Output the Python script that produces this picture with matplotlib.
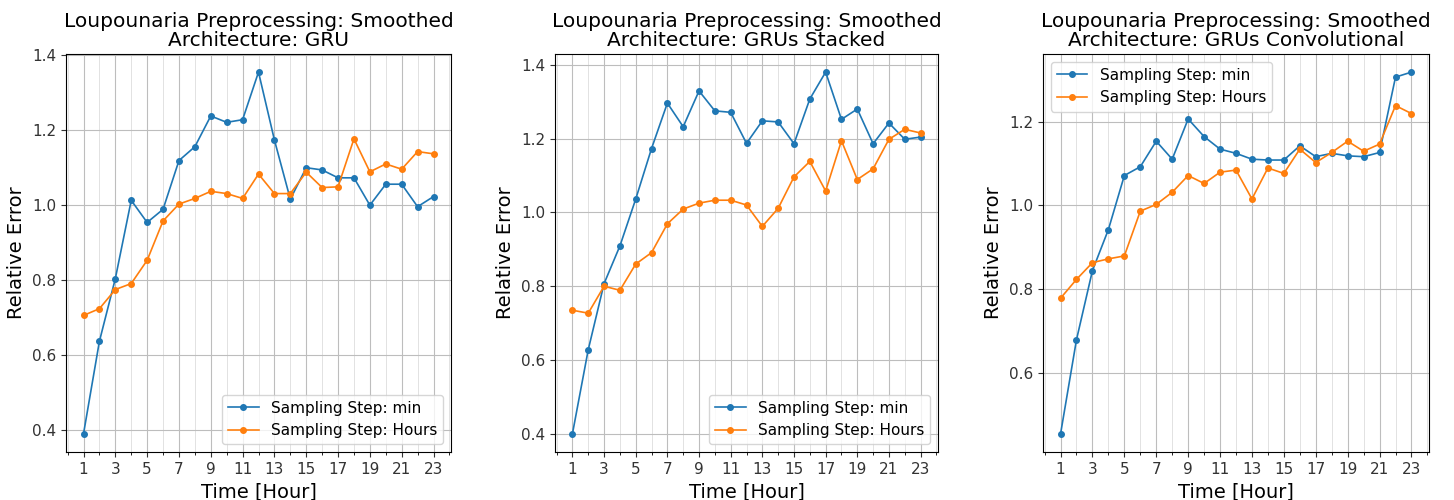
#!/usr/bin/env python3
import matplotlib
matplotlib.use('Agg')
import matplotlib.pyplot as plt
from matplotlib.ticker import MultipleLocator

hours = list(range(1, 24))

# relative error per forecast hour, one list per architecture / sampling step
gru_min = [0.390, 0.637, 0.804, 1.013, 0.954, 0.989, 1.119, 1.156, 1.238, 1.221, 1.228, 1.355,
           1.174, 1.016, 1.100, 1.094, 1.073, 1.073, 1.000, 1.056, 1.056, 0.996, 1.023]
gru_hours = [0.706, 0.724, 0.775, 0.791, 0.853, 0.958, 1.003, 1.018, 1.037, 1.031, 1.018, 1.083,
             1.031, 1.031, 1.088, 1.047, 1.049, 1.177, 1.089, 1.110, 1.096, 1.143, 1.137]

stacked_min = [0.400, 0.628, 0.807, 0.909, 1.036, 1.173, 1.296, 1.232, 1.329, 1.275, 1.271, 1.187,
               1.248, 1.245, 1.186, 1.307, 1.380, 1.252, 1.280, 1.186, 1.242, 1.198, 1.204]
stacked_hours = [0.735, 0.727, 0.800, 0.789, 0.860, 0.891, 0.969, 1.009, 1.025, 1.033, 1.033, 1.020,
                 0.962, 1.011, 1.096, 1.138, 1.058, 1.194, 1.089, 1.118, 1.198, 1.225, 1.215]

conv_min = [0.454, 0.679, 0.844, 0.942, 1.071, 1.092, 1.153, 1.110, 1.206, 1.164, 1.134, 1.124,
            1.110, 1.108, 1.108, 1.142, 1.116, 1.124, 1.118, 1.116, 1.126, 1.306, 1.318]
conv_hours = [0.778, 0.823, 0.863, 0.872, 0.879, 0.986, 1.002, 1.031, 1.071, 1.052, 1.079, 1.084,
              1.015, 1.089, 1.076, 1.134, 1.102, 1.126, 1.153, 1.129, 1.146, 1.238, 1.219]

architectures = ['GRU', 'GRUs Stacked', 'GRUs Convolutional']
legend_loc = ['lower right', 'lower right', 'upper left']
series = [(gru_min, gru_hours), (stacked_min, stacked_hours), (conv_min, conv_hours)]

# axes boxes in pixels: left, right (figure is 1454 x 500)
boxes = [(66, 451), (555, 938), (1043, 1429)]
top, bottom = 54, 452

fig = plt.figure(figsize=(14.54, 5.0), dpi=100)
for i, (arch, (y_min, y_hours)) in enumerate(zip(architectures, series)):
    left, right = boxes[i]
    ax = fig.add_axes([left / 1454, (500 - bottom) / 500, (right - left) / 1454, (bottom - top) / 500])
    ax.plot(hours, y_min, 'o-', color='tab:blue', ms=4, lw=1.2, label='Sampling Step: min')
    ax.plot(hours, y_hours, 'o-', color='tab:orange', ms=4, lw=1.2, label='Sampling Step: Hours')
    ax.xaxis.set_major_locator(MultipleLocator(2, offset=1))
    ax.xaxis.set_minor_locator(MultipleLocator(1))
    ax.yaxis.set_major_locator(MultipleLocator(0.2))
    ax.grid(which='major', color='#bdbdbd', lw=0.8)
    ax.grid(which='minor', axis='x', color='#dddddd', lw=0.6)
    ax.tick_params(labelsize=11, colors='#333333')
    ax.set_xlim(-0.1, 24.1)
    ax.set_xlabel('Time [Hour]', fontsize=14)
    ax.set_ylabel('Relative Error', fontsize=14)
    ax.set_title('Loupounaria Preprocessing: Smoothed\nArchitecture: {}'.format(arch),
                 fontsize=14.5, linespacing=1.0)
    ax.legend(loc=legend_loc[i], fontsize=11)

fig.savefig('out.png', dpi=100)
